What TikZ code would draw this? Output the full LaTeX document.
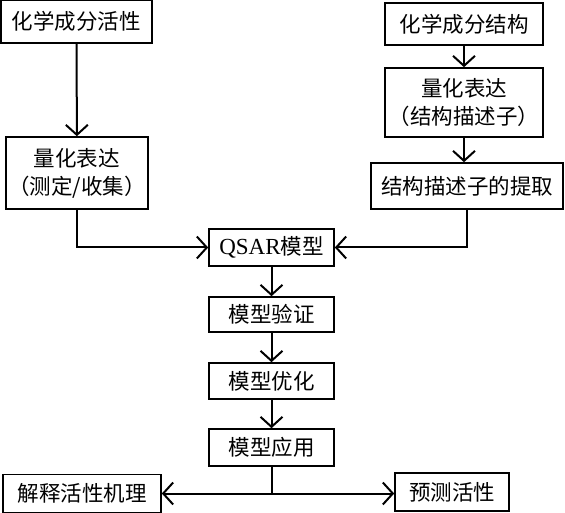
\documentclass[tikz,border=0pt]{standalone}
\usepackage{fontspec}
\setmainfont{Liberation Serif}
\newfontfamily\cjk{Noto Sans CJK SC}
\usetikzlibrary{arrows.meta}

\begin{document}
\begin{tikzpicture}[x=1pt,y=-1pt,
  box/.style={draw,line width=1.6pt,inner sep=0pt,align=center,
    font=\cjk\fontsize{21.5}{28}\selectfont},
  arr/.style={line width=2pt,-{Straight Barb[length=10pt,width=22pt,line width=2pt]}}]
\useasboundingbox (0,0) rectangle (565,513);
\node[box,minimum width=151,minimum height=43] (act) at (76.5,21.5) {化学成分活性};
\node[box,minimum width=142,minimum height=72] (actq) at (77,173) {量化表达\\（测定/收集）};
\node[box,minimum width=158,minimum height=42] (str) at (464,24) {化学成分结构};
\node[box,minimum width=158,minimum height=69] (strq) at (464,102.5) {量化表达\\（结构描述子）};
\node[box,minimum width=192,minimum height=46] (desc) at (467,186) {结构描述子的提取};
\node[box,minimum width=125,minimum height=37] (qsar) at (271.5,247.5) {{\rmfamily\fontsize{23}{28}\selectfont QSAR}模型};
\node[box,minimum width=125,minimum height=35] (valid) at (271.5,314.5) {模型验证};
\node[box,minimum width=125,minimum height=36] (optim) at (271.5,381) {模型优化};
\node[box,minimum width=125,minimum height=37] (apply) at (271.5,447.5) {模型应用};
\node[box,minimum width=158,minimum height=38] (mech) at (82,493.5) {解释活性机理};
\node[box,minimum width=114,minimum height=38] (pred) at (452,492) {预测活性};
\coordinate (fork) at (apply.south |- mech.east);
\draw[arr] (act) -- (actq);
\draw[arr] (str) -- (strq);
\draw[arr] (strq.south) -- (strq.south |- desc.north);
\draw[arr] (actq.south) |- (qsar.west);
\draw[arr] (desc.south) |- (qsar.east);
\draw[arr] (qsar) -- (valid);
\draw[arr] (valid) -- (optim);
\draw[arr] (optim) -- (apply);
\draw[line width=2pt] (apply) -- (fork);
\draw[arr] (fork) -- (mech);
\draw[arr] (fork) -- (pred.west |- fork);
\end{tikzpicture}
\end{document}
